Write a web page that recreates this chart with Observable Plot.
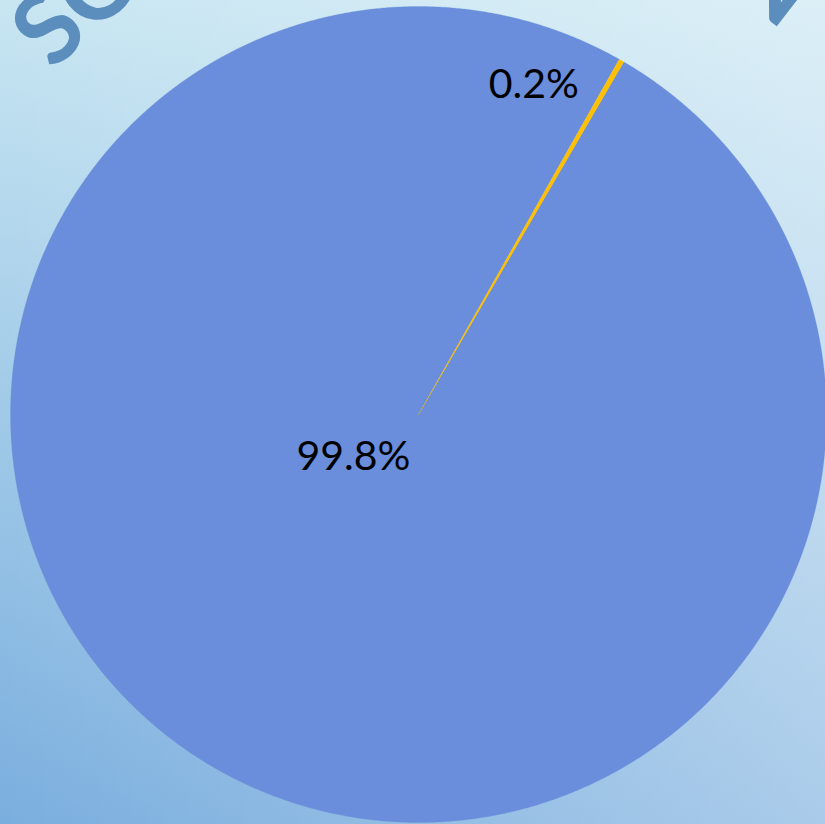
<!DOCTYPE html>
<html>
<head>
<meta charset="utf-8">
<script src="https://cdn.jsdelivr.net/npm/d3@7"></script>
<script src="https://cdn.jsdelivr.net/npm/@observablehq/plot@0.6"></script>
<style>
  html, body { margin: 0; padding: 0; }
  body { width: 825px; height: 824px; overflow: hidden; }
  #chart svg { display: block; }
</style>
</head>
<body>
<div id="chart"></div>
<script>
// ---- data ----
const categories = ["Other", "Solar"];
const values = [99.8, 0.2];
const labels = ["99.8%", "0.2%"];
const colors = ["#6a8edb", "#ffc000"];
const titleText = "SOLAR ADOPTION";
// first slice starts at this angle (degrees clockwise from top)
const firstSliceAngle = 30.2;
// label placement: radius fraction and angle (deg) for each slice
const labelRadius = [0.19, 0.855];
const labelAngle = [237, 19.3];

// ---- build slice polygons from the data ----
const pieData = d3.pie().sort(null).value(d => d)
  .startAngle(firstSliceAngle * Math.PI / 180)
  .endAngle(firstSliceAngle * Math.PI / 180 + 2 * Math.PI)(values);

const pts = [];
pieData.forEach((p, i) => {
  const cat = categories[i];
  pts.push({cat, x: 0, y: 0});
  const span = p.endAngle - p.startAngle;
  const n = Math.max(4, Math.ceil(span / (0.25 * Math.PI / 180)));
  for (let k = 0; k <= n; k++) {
    const a = p.startAngle + span * k / n;
    pts.push({cat, x: Math.sin(a), y: Math.cos(a)});
  }
  pts.push({cat, x: 0, y: 0});
});

const labelData = categories.map((c, i) => ({
  label: labels[i],
  x: labelRadius[i] * Math.sin(labelAngle[i] * Math.PI / 180),
  y: labelRadius[i] * Math.cos(labelAngle[i] * Math.PI / 180)
}));

const cx = 418, cy = 414, R = 408;

const plot = Plot.plot({
  width: 825,
  height: 824,
  margin: 0,
  x: {domain: [-1, 1], range: [cx - R, cx + R], axis: null},
  y: {domain: [-1, 1], range: [cy + R, cy - R], axis: null},
  color: {domain: categories, range: colors},
  style: {
    background: "linear-gradient(to right, rgba(255,255,255,0) 0%, rgba(255,255,255,0.36) 100%), linear-gradient(to bottom, #c8e6f2 0%, #7aaede 100%)",
    fontFamily: "Lato, sans-serif"
  },
  marks: [
    Plot.line(pts, {x: "x", y: "y", z: "cat", fill: "cat", stroke: "cat", strokeWidth: 0.3, curve: "linear"}),
    Plot.text(labelData, {x: "x", y: "y", text: "label", fontSize: 41, fill: "#000", textAnchor: "middle", lineAnchor: "middle"})
  ]
});

document.getElementById("chart").appendChild(plot);

// curved title over the top of the pie
const svg = d3.select(plot);
const tcx = plot.scale("x").apply(0) + 20, tcy = plot.scale("y").apply(0);
const rb = 514;
const startDeg = -48.3, endDeg = 42;
const rad = d => d * Math.PI / 180;
const p0 = [tcx + rb * Math.sin(rad(startDeg)), tcy - rb * Math.cos(rad(startDeg))];
const p1 = [tcx + rb * Math.sin(rad(startDeg + 180)), tcy - rb * Math.cos(rad(startDeg + 180))];
svg.append("defs").append("path")
  .attr("id", "titleArc")
  .attr("d", `M ${p0[0]} ${p0[1]} A ${rb} ${rb} 0 0 1 ${p1[0]} ${p1[1]}`);
const t = svg.append("text")
  .attr("font-family", "Lato, sans-serif")
  .attr("font-size", 98)
  .attr("font-weight", "bold")
  .attr("text-anchor", "start")
  .attr("fill", "#5b8dbd");
t.append("textPath").attr("href", "#titleArc").attr("text-anchor", "start").text(titleText);
// measure natural length, then spread letters to span the target arc
const natural = t.node().getComputedTextLength();
const target = rad(endDeg - startDeg) * rb;
const spacing = (target - natural) / (titleText.length - 1);
t.attr("letter-spacing", spacing);
</script>
</body>
</html>
